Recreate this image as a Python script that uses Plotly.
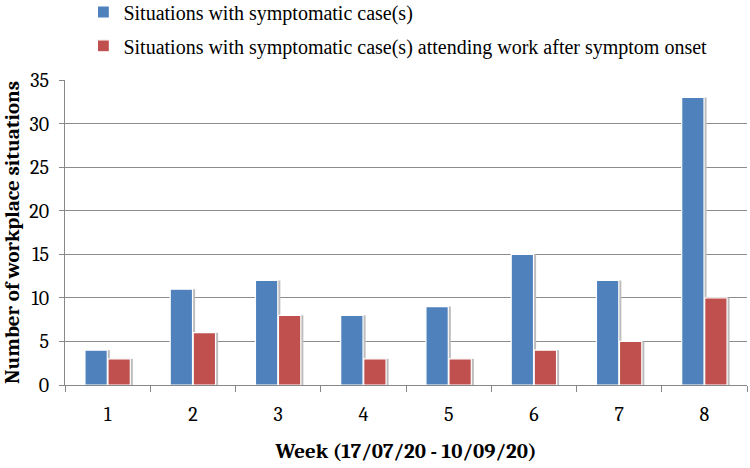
import plotly.graph_objects as go

weeks = ["1", "2", "3", "4", "5", "6", "7", "8"]
symptomatic = [4, 11, 12, 8, 9, 15, 12, 33]
attending_work = [3, 6, 8, 3, 3, 4, 5, 10]
y_ticks = [0, 5, 10, 15, 20, 25, 30, 35]

serif = "Cambria, 'Liberation Serif', 'DejaVu Serif', serif"
BLUE = "#4F81BD"
RED = "#C0504D"
SHADOW = "#bdbdbd"

bar_w = 0.262     # width of each bar in category units
shadow_dx = 0.03  # shadow offset in category units

fig = go.Figure()
# soft shadows behind the bars
fig.add_trace(go.Bar(
    x=weeks, y=symptomatic, width=bar_w, offset=-bar_w - 0.004 + shadow_dx,
    marker=dict(color=SHADOW, line=dict(width=0)), showlegend=False, hoverinfo="skip",
))
fig.add_trace(go.Bar(
    x=weeks, y=attending_work, width=bar_w, offset=0.004 + shadow_dx,
    marker=dict(color=SHADOW, line=dict(width=0)), showlegend=False, hoverinfo="skip",
))
fig.add_trace(go.Bar(
    x=weeks, y=symptomatic, name="Situations with symptomatic case(s)",
    width=bar_w, offset=-bar_w - 0.004,
    marker=dict(color=BLUE, line=dict(color="white", width=1.2)),
    legend="legend",
))
fig.add_trace(go.Bar(
    x=weeks, y=attending_work,
    name="Situations with symptomatic case(s) attending work after symptom onset",
    width=bar_w, offset=0.004,
    marker=dict(color=RED, line=dict(color="white", width=1.2)),
    legend="legend2",
))

legend_font = dict(size=20, family="'Liberation Serif', 'DejaVu Serif', serif", color="black")

fig.update_layout(
    width=750, height=468,
    margin=dict(l=65, r=3, t=80, b=83, autoexpand=False),
    paper_bgcolor="white", plot_bgcolor="white",
    barmode="overlay",
    font=dict(family=serif, color="black", size=20),
    legend=dict(x=0.027, y=1.223, xanchor="left", yanchor="middle",
                bgcolor="rgba(0,0,0,0)", font=legend_font),
    legend2=dict(x=0.027, y=1.112, xanchor="left", yanchor="middle",
                 bgcolor="rgba(0,0,0,0)", font=legend_font),
    xaxis=dict(
        type="category", tickson="boundaries", ticks="outside", ticklen=6,
        tickcolor="#888888", showline=True, linecolor="#888888", linewidth=1,
        showgrid=False, automargin=False, ticklabelstandoff=11,
        title=dict(text="<b>Week (17/07/20 - 10/09/20)</b>", font=dict(size=21), standoff=18),
        tickfont=dict(size=20),
    ),
    yaxis=dict(
        range=[0, 35], tickvals=y_ticks, ticks="outside", ticklen=5,
        tickcolor="#888888", showline=True, linecolor="#888888", linewidth=1,
        showgrid=True, gridcolor="#8c8c8c", gridwidth=1, zeroline=False,
        automargin=False, ticklabelstandoff=6,
        title=dict(text="<b>Number of workplace situations</b>", font=dict(size=21), standoff=8),
        tickfont=dict(size=20),
    ),
)

fig.write_html("out.html", config={"displayModeBar": False},
               post_script="document.body.style.margin='0';")
